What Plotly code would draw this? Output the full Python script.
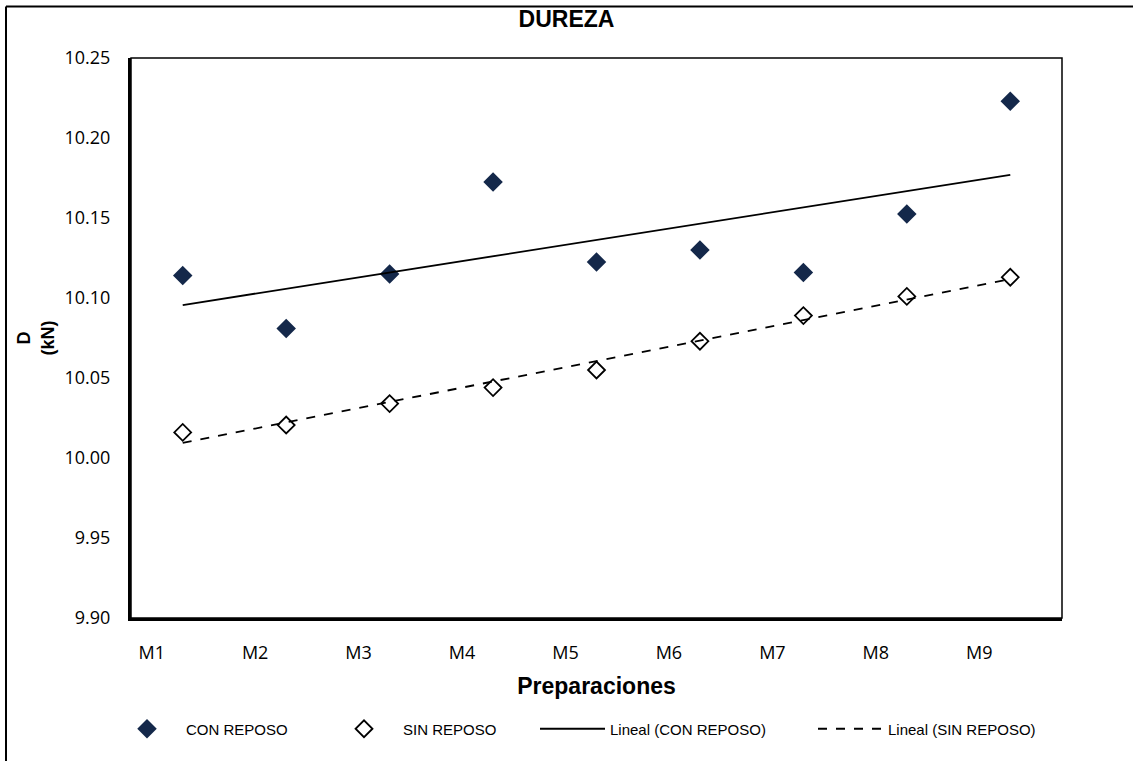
import numpy as np
import plotly.graph_objects as go

categories = ["M1", "M2", "M3", "M4", "M5", "M6", "M7", "M8", "M9"]
con_reposo = [10.114, 10.081, 10.115, 10.1725, 10.1225, 10.130, 10.116, 10.1525, 10.223]
sin_reposo = [10.016, 10.0206, 10.034, 10.044, 10.055, 10.073, 10.089, 10.101, 10.113]
y_ticks = [9.90, 9.95, 10.00, 10.05, 10.10, 10.15, 10.20, 10.25]

x = np.arange(1, len(categories) + 1)
label_shift = 0.3

def trend(vals):
    m, b = np.polyfit(x, vals, 1)
    return m * x + b

FONT = "Open Sans, Liberation Sans, Arial, sans-serif"
LEG = "Liberation Sans, Arial, sans-serif"
BOLD = "Liberation Sans, Arial, sans-serif"

L, R, T, B = 131, 71, 58, 143
W, H = 1133, 761
pw, ph = W - L - R, H - T - B

fig = go.Figure()
fig.add_trace(go.Scatter(x=x, y=con_reposo, mode="markers", name="CON REPOSO", legend="legend",
                         marker=dict(symbol="diamond", size=15, color="#14284a",
                                     line=dict(width=0))))
fig.add_trace(go.Scatter(x=x, y=sin_reposo, mode="markers", name="SIN REPOSO", legend="legend2",
                         marker=dict(symbol="diamond", size=13, color="white",
                                     line=dict(width=1.8, color="black"))))
fig.add_trace(go.Scatter(x=x, y=trend(con_reposo), mode="lines", name="Lineal (CON REPOSO)",
                         legend="legend3", line=dict(color="black", width=1.8)))
fig.add_trace(go.Scatter(x=x, y=trend(sin_reposo), mode="lines", name="Lineal (SIN REPOSO)",
                         legend="legend4", line=dict(color="black", width=1.8, dash="dash")))

leg_y = -(729 - T - ph) / ph
def leg(px, w):
    return dict(orientation="h", x=(px - L) / pw, xanchor="left", y=leg_y, yanchor="middle",
                itemwidth=w, font=dict(family=LEG, size=15, color="black"),
                bgcolor="rgba(0,0,0,0)")

fig.update_layout(
    width=W, height=H,
    margin=dict(l=L, r=R, t=T, b=B),
    paper_bgcolor="white", plot_bgcolor="white",
    title=dict(text="<b>DUREZA</b>", x=0.5, xanchor="center", y=1 - 19 / H, yanchor="middle",
               font=dict(family=BOLD, size=23, color="black")),
    showlegend=True,
    legend=leg(108, 68), legend2=leg(325, 68), legend3=leg(535, 65), legend4=leg(813, 65),
    xaxis=dict(range=[0.5, 9.5], tickvals=list(x - label_shift), ticktext=categories,
               showgrid=False, zeroline=False, showline=True, linecolor="black", linewidth=3,
               ticks="", ticklabelstandoff=16,
               tickfont=dict(family=FONT, size=18, color="black"),
               title=dict(text="<b>Preparaciones</b>", standoff=16,
                          font=dict(family=BOLD, size=23, color="black"))),
    yaxis=dict(range=[9.90, 10.25], tickvals=y_ticks, tickformat=".2f",
               showgrid=False, zeroline=False, showline=True, linecolor="black", linewidth=3,
               ticks="", ticklabelstandoff=14,
               tickfont=dict(family=FONT, size=18, color="black"),
               title=dict(text="<b>D<br>(kN)</b>", standoff=6,
                          font=dict(family=BOLD, size=18, color="black"))),
)

fig.add_shape(type="rect", xref="paper", yref="paper", x0=0, y0=0, x1=1, y1=1,
              line=dict(color="black", width=1.5), layer="above")
ox0 = (6 - L) / pw
oy1 = 1 + (T - 6.5) / ph
ox1 = (W + 5 - L) / pw
oy0 = -(B + 5) / ph
fig.add_shape(type="line", xref="paper", yref="paper", x0=ox0, y0=oy0, x1=ox0, y1=oy1,
              line=dict(color="black", width=2))
fig.add_shape(type="line", xref="paper", yref="paper", x0=ox0, y0=oy1, x1=ox1, y1=oy1,
              line=dict(color="black", width=2))

fig.write_html("out.html", config={"displayModeBar": False},
               post_script="document.body.style.margin='0px';document.body.style.overflow='hidden';")
